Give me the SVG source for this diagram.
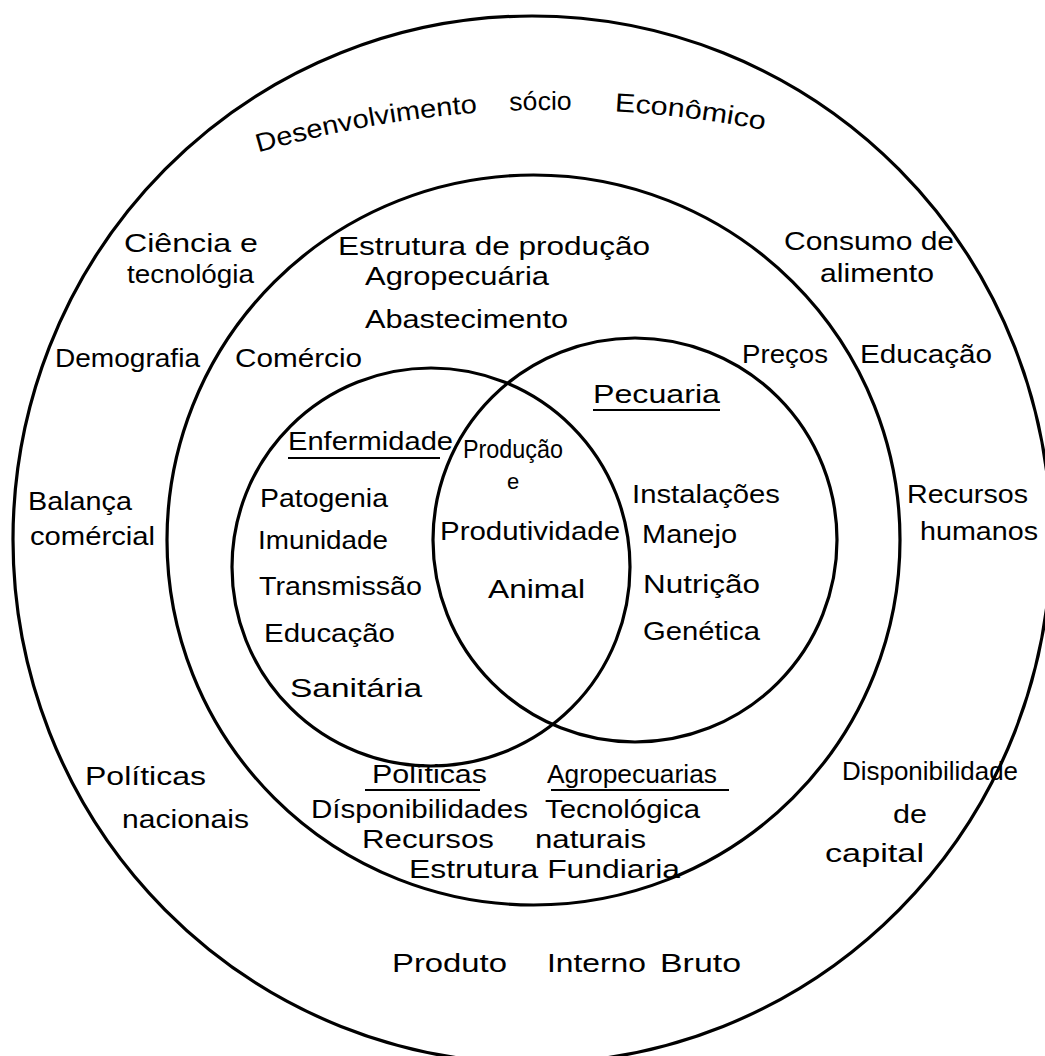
<svg xmlns="http://www.w3.org/2000/svg" xmlns:xlink="http://www.w3.org/1999/xlink" width="1045" height="1056" viewBox="0 0 1045 1056">
<style>
.c{fill:none;stroke:#000;stroke-width:3.2}
.u{stroke:#000;stroke-width:2.2}
text{font-family:"Liberation Sans",Arial,sans-serif;font-size:26px;fill:#000}
</style>
<defs>
<path id="arc" d="M250,155 A1064,1064 0 0 1 800,138"/>
</defs>
<rect width="1045" height="1056" fill="#fff"/>
<g id="connectors">
<ellipse class="c" cx="532" cy="539.6" rx="519" ry="523.6"/>
<ellipse class="c" cx="533.5" cy="540" rx="366.5" ry="365"/>
<circle class="c" cx="431" cy="567" r="199"/>
<circle class="c" cx="635" cy="540" r="202"/>
<line class="u" x1="288" y1="458" x2="440" y2="458"/>
<line class="u" x1="593" y1="410" x2="720" y2="410"/>
<line class="u" x1="365" y1="790" x2="480" y2="790"/>
<line class="u" x1="551" y1="790" x2="729" y2="790"/>
</g>
<g id="outer">
<text><textPath xlink:href="#arc" startOffset="8.7" textLength="223" lengthAdjust="spacingAndGlyphs">Desenvolvimento</textPath></text>
<text><textPath xlink:href="#arc" startOffset="264" textLength="62" lengthAdjust="spacingAndGlyphs">sócio</textPath></text>
<text><textPath xlink:href="#arc" startOffset="369" textLength="151" lengthAdjust="spacingAndGlyphs">Econômico</textPath></text>
<text x="124" y="252" textLength="134" lengthAdjust="spacingAndGlyphs">Ciência e</text>
<text x="127" y="283" textLength="127" lengthAdjust="spacingAndGlyphs">tecnológia</text>
<text x="784" y="250" textLength="170" lengthAdjust="spacingAndGlyphs">Consumo de</text>
<text x="820" y="282" textLength="114" lengthAdjust="spacingAndGlyphs">alimento</text>
<text x="55" y="367" textLength="145" lengthAdjust="spacingAndGlyphs">Demografia</text>
<text x="860" y="363" textLength="132" lengthAdjust="spacingAndGlyphs">Educação</text>
<text x="28" y="510" textLength="104" lengthAdjust="spacingAndGlyphs">Balança</text>
<text x="30" y="545" textLength="125" lengthAdjust="spacingAndGlyphs">comércial</text>
<text x="907" y="503" textLength="121" lengthAdjust="spacingAndGlyphs">Recursos</text>
<text x="920" y="540" textLength="118" lengthAdjust="spacingAndGlyphs">humanos</text>
<text x="85" y="785" textLength="121" lengthAdjust="spacingAndGlyphs">Políticas</text>
<text x="122" y="828" textLength="127" lengthAdjust="spacingAndGlyphs">nacionais</text>
<text x="842" y="780" textLength="176" lengthAdjust="spacingAndGlyphs">Disponibilidade</text>
<text x="893" y="823" textLength="34" lengthAdjust="spacingAndGlyphs">de</text>
<text x="825" y="862" textLength="99" lengthAdjust="spacingAndGlyphs">capital</text>
<text x="392" y="972" textLength="115" lengthAdjust="spacingAndGlyphs">Produto</text>
<text x="547" y="972" textLength="99" lengthAdjust="spacingAndGlyphs">Interno</text>
<text x="660" y="972" textLength="81" lengthAdjust="spacingAndGlyphs">Bruto</text>
</g>
<g id="middle">
<text x="338" y="255" textLength="312" lengthAdjust="spacingAndGlyphs">Estrutura de produção</text>
<text x="365" y="285" textLength="184" lengthAdjust="spacingAndGlyphs">Agropecuária</text>
<text x="365" y="328" textLength="203" lengthAdjust="spacingAndGlyphs">Abastecimento</text>
<text x="235" y="367" textLength="127" lengthAdjust="spacingAndGlyphs">Comércio</text>
<text x="742" y="363" textLength="86" lengthAdjust="spacingAndGlyphs">Preços</text>
<text x="372" y="783" textLength="115" lengthAdjust="spacingAndGlyphs">Políticas</text>
<text x="547" y="783" textLength="170" lengthAdjust="spacingAndGlyphs">Agropecuarias</text>
<text x="311" y="818" textLength="217" lengthAdjust="spacingAndGlyphs">Dísponibilidades</text>
<text x="545" y="818" textLength="155" lengthAdjust="spacingAndGlyphs">Tecnológica</text>
<text x="362" y="848" textLength="132" lengthAdjust="spacingAndGlyphs">Recursos</text>
<text x="535" y="848" textLength="111" lengthAdjust="spacingAndGlyphs">naturais</text>
<text x="409" y="878" textLength="271" lengthAdjust="spacingAndGlyphs">Estrutura Fundiaria</text>
</g>
<g id="enfermidade">
<text x="288" y="450" textLength="165" lengthAdjust="spacingAndGlyphs">Enfermidade</text>
<text x="260" y="507" textLength="128" lengthAdjust="spacingAndGlyphs">Patogenia</text>
<text x="258" y="549" textLength="130" lengthAdjust="spacingAndGlyphs">Imunidade</text>
<text x="259" y="595" textLength="163" lengthAdjust="spacingAndGlyphs">Transmissão</text>
<text x="264" y="642" textLength="131" lengthAdjust="spacingAndGlyphs">Educação</text>
<text x="290" y="697" textLength="132" lengthAdjust="spacingAndGlyphs">Sanitária</text>
</g>
<g id="producao">
<text x="463" y="458" textLength="100" lengthAdjust="spacingAndGlyphs">Produção</text>
<text x="507" y="489" style="font-size:22px">e</text>
<text x="440" y="540" textLength="180" lengthAdjust="spacingAndGlyphs">Produtividade</text>
<text x="488" y="598" textLength="97" lengthAdjust="spacingAndGlyphs">Animal</text>
</g>
<g id="pecuaria">
<text x="593" y="403" textLength="127" lengthAdjust="spacingAndGlyphs">Pecuaria</text>
<text x="632" y="503" textLength="148" lengthAdjust="spacingAndGlyphs">Instalações</text>
<text x="642" y="543" textLength="95" lengthAdjust="spacingAndGlyphs">Manejo</text>
<text x="643" y="593" textLength="117" lengthAdjust="spacingAndGlyphs">Nutrição</text>
<text x="643" y="640" textLength="117" lengthAdjust="spacingAndGlyphs">Genética</text>
</g>
</svg>
